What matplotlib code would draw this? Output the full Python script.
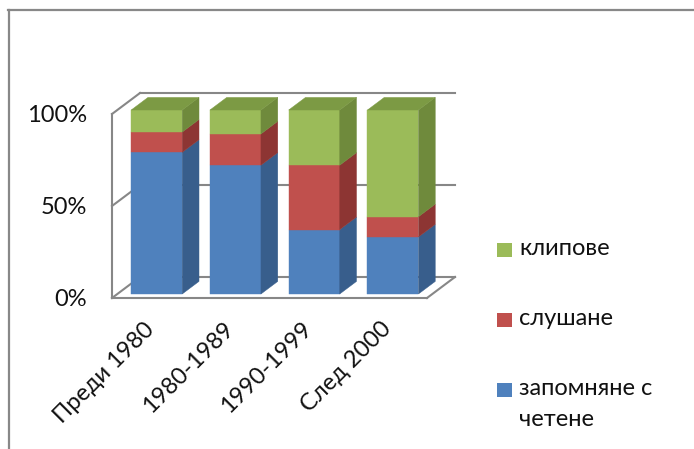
import matplotlib
matplotlib.use("Agg")
import matplotlib.pyplot as plt
from matplotlib.patches import Polygon, Rectangle
from matplotlib.lines import Line2D
import numpy as np

# Share of each learning method by period (percent, stacked to 100)
categories = ["Преди 1980", "1980-1989", "1990-1999", "След 2000"]
reading = [77, 70, 35, 31]      # запомняне с четене
listening = [11, 17, 35, 11]    # слушане
clips = [12, 13, 30, 58]        # клипове
series_labels = ["клипове", "слушане", "запомняне с\nчетене"]
ytick_values = [0, 50, 100]
ytick_labels = ["0%", "50%", "100%"]

W, H, DPI = 694, 449, 100
plt.rcParams['font.family'] = ['Lato', 'DejaVu Sans']
FS = 17
GRID = '#878787'

fig = plt.figure(figsize=(W / DPI, H / DPI), dpi=DPI)

# Front plane of the 3-D box, in pixels
x0, x1 = 112, 427
ytop, ybot = 114, 298
ax = fig.add_axes([x0 / W, 1 - ybot / H, (x1 - x0) / W, (ybot - ytop) / H])
ax.set_xlim(-0.5, len(categories) - 0.5)
ax.set_ylim(0, 100)
for s in ax.spines.values():
    s.set_visible(False)

# Depth vector of the box expressed in data units
px_x = (x1 - x0) / len(categories)
px_y = (ybot - ytop) / 100
DX = 28 / px_x
DY = 21 / px_y

xl_box, xr_box = -0.5, len(categories) - 0.5

def wall_line(xs, ys):
    ax.add_line(Line2D(xs, ys, color=GRID, lw=1.5, clip_on=False, zorder=1,
                       solid_capstyle='projecting'))

# left wall front edge
wall_line([xl_box, xl_box], [0, 100])
for v in ytick_values:
    # left wall diagonals and back wall gridlines
    wall_line([xl_box, xl_box + DX], [v, v + DY])
    wall_line([xl_box + DX, xr_box + DX], [v + DY, v + DY])
# floor front edge and right side
wall_line([xl_box, xr_box], [0, 0])
wall_line([xr_box, xr_box + DX], [0, DY])

# Stacked 3-D bars
series = [
    (reading, '#4F81BD', '#385E8C'),
    (listening, '#C0504D', '#8D3533'),
    (clips, '#9BBB59', '#6F8A3C'),
]
top_color = '#7C9A44'
d0, d1 = 0.19, 0.79
bw = 0.648
ddx, ddy = (d1 - d0) * DX, (d1 - d0) * DY
bottoms = np.zeros(len(categories))
for k, (vals, front, side) in enumerate(series):
    for i, v in enumerate(vals):
        b = bottoms[i]
        t = b + v
        xl = i - bw / 2 + d0 * DX
        xr = xl + bw
        yb = b + d0 * DY
        yt = t + d0 * DY
        ax.add_patch(Polygon([(xl, yb), (xr, yb), (xr, yt), (xl, yt)],
                             closed=True, fc=front, ec=front, lw=0.3,
                             clip_on=False, zorder=3))
        ax.add_patch(Polygon([(xr, yb), (xr + ddx, yb + ddy),
                              (xr + ddx, yt + ddy), (xr, yt)],
                             closed=True, fc=side, ec=side, lw=0.3,
                             clip_on=False, zorder=3))
        if k == len(series) - 1:
            ax.add_patch(Polygon([(xl, yt), (xr, yt), (xr + ddx, yt + ddy),
                                  (xl + ddx, yt + ddy)],
                                 closed=True, fc=top_color, ec=top_color,
                                 lw=0.3, clip_on=False, zorder=3))
    bottoms += np.array(vals)

ax.set_yticks(ytick_values, ytick_labels)
ax.tick_params(axis='y', length=0, pad=18, labelsize=FS, labelcolor='#111111')
ax.set_xticks(range(len(categories)), categories)
ax.tick_params(axis='x', length=0, pad=20, labelsize=FS, labelcolor='#111111')
for lab in ax.get_xticklabels():
    lab.set_rotation(45)
    lab.set_ha('right')
    lab.set_va('center')
    lab.set_rotation_mode('anchor')

# Legend
legend_colors = ['#9BBB59', '#C0504D', '#4F81BD']
legend_y = [250, 320, 390]
for col, lab, y in zip(legend_colors, series_labels, legend_y):
    fig.add_artist(Rectangle((497 / W, 1 - (y + 7) / H), 15 / W, 14 / H,
                             transform=fig.transFigure, fc=col, ec='none'))
    fig.text(519 / W, 1 - (y - 12) / H, lab, fontsize=FS, va='top', ha='left',
             color='#111111', linespacing=1.6)

# Chart area border (top and left edges visible)
fig.add_artist(Line2D([8 / W, 1], [1 - 10 / H, 1 - 10 / H], transform=fig.transFigure,
                      color='#888888', lw=1.6))
fig.add_artist(Line2D([8.5 / W, 8.5 / W], [1 - 10 / H, 0], transform=fig.transFigure,
                      color='#888888', lw=1.6))

fig.savefig('out.png', dpi=DPI)
